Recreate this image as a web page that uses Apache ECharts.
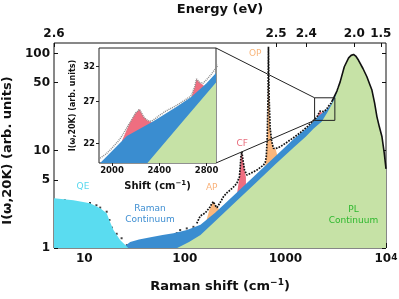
<!DOCTYPE html>
<html><head><meta charset="utf-8">
<script src="https://cdn.jsdelivr.net/npm/echarts@6/dist/echarts.min.js"></script>
<style>html,body{margin:0;padding:0;background:#fff}#c{width:399px;height:299px}</style>
</head><body><div id="c"></div>
<script>
// ---- data (Raman shift in cm^-1, intensity in arb. units) ----
const qeCurve = [[5,3.25],[7.8,3.1],[11.4,2.88],[14.4,2.56],[16.7,2.27],[18,1.86],[19.5,1.53],[22.7,1.21],[27.4,1.0]];
const ramanContinuum = [[24,1.0],[28.6,1.15],[35,1.22],[45.6,1.29],[60,1.36],[77,1.42],[105,1.53],[143,1.73],[200,2.3],[300,3.4],[500,5.6],[800,8.8],[1200,13.1],[1600,16.8],[1900,20.0],[2126,22.8],[2350,24.5],[2547,26.3],[2673,27.6],[2800,29.5],[2880,31.0],[3100,36.5],[3350,44]];
const plContinuum = [[84,1.0],[110,1.15],[143,1.36],[200,1.88],[300,2.8],[500,4.6],[800,7.3],[1200,10.7],[1600,14.0],[1900,16.8],[2300,20.0],[2600,24.5],[2880,29.6],[3100,34.5],[3350,44],[3500,51],[3850,73],[4250,90],[4500,95.5],[4760,97.5],[5000,94],[5333,85],[5900,70],[6457,57.6],[6900,48],[7244,42],[7700,31],[8128,22.3],[8600,17.5],[9120,13.9],[9600,9.5],[10000,6.5]];
const peakAP = [[165,1.97],[175,2.45],[185,2.8],[192,3.0],[200,2.75],[210,2.6],[220,2.52]];
const peakCF = [[332,3.75],[349,5.4],[356,7.0],[361,8.67],[369,9.75],[377,8.2],[392,6.33],[405,5.3]];
const peakOP = [[630,7.2],[645,8.5],[660,14],[670,33],[675,70],[678,117],[682,70],[690,33],[705,17],[730,12.5],[760,10.6],[800,10.4],[827,9.1]];
const peakInset1 = [[2084,22.3],[2150,24.3],[2200,25.5],[2232,25.97],[2270,25.0],[2300,24.6],[2336,24.4]];
const peakInset2 = [[2673,27.6],[2700,29.0],[2715,30.1],[2740,29.6],[2775,29.2]];
const lowDots = [[6.4,3.1],[7.2,3.0],[8.1,2.85],[9.5,2.85],[11.4,2.9],[13.2,2.75],[14.4,2.6],[16.7,2.36],[17.8,1.94],[18.8,1.62],[21,1.4],[23.5,1.26],[26.5,1.07],
  [30.8,1.12],[35.9,1.16],[41.8,1.21],[48.7,1.26],[56.7,1.23],[66.1,1.31],[76.9,1.33],[83.2,1.42],[89.8,1.53],[104.5,1.59],[121.7,1.65],
  [35.9,1.03],[45.1,1.07],[52,1.09],[71.3,1.16],[96.8,1.26],[115,1.45]];
const measured = [[131.5,1.79],[142,2.13],[160,2.3],[178,2.64],[185,2.85],[192,2.99],[200,2.75],[209,2.6],[225,2.95],[242,3.37],[262,3.7],[282,3.94],[305,4.25],[329,4.62],[349,5.4],[356,7.0],[361,8.67],[369,9.75],[377,8.2],[392,6.33],[414,5.62],[446,5.85],[480,6.05],[520,6.33],[560,6.7],[606,7.12],[630,7.6],[645,8.6],[660,14],[670,33],[675,70],[678,117],[682,70],[690,33],[705,17],[730,12.5],[760,10.6],[800,10.5],[887,11.0],[1000,11.9],[1115,12.9],[1250,14.0],[1403,15.3],[1634,17.5],[1800,19.3],[1890,20.4],[1950,20.9],[2000,21.5],[2050,22.2],[2084,22.8],[2150,24.3],[2200,25.5],[2232,25.97],[2270,25.0],[2300,24.6],[2336,24.5],[2400,25.2],[2450,25.7],[2500,26.1],[2550,26.5],[2600,27.0],[2650,27.5],[2673,27.8],[2700,29.0],[2715,30.1],[2740,29.6],[2771,29.5],[2800,30.0],[2840,30.8],[2880,31.8],[3000,34.5],[3250,41],[3350,44.8],[3500,51],[3850,73],[4250,90],[4500,95.5],[4760,97.5],[5000,94],[5333,85],[5900,70],[6457,57.6],[6900,48],[7244,42],[7700,31],[8128,22.3],[8600,17.5],[9120,13.9],[9600,9.5],[10000,6.5]];
const solidFrom = 2880;
const bottomTicks = [10,100,1000,10000];
const bottomMinorTicks = [6,7,8,9,20,30,40,50,60,70,80,90,200,300,400,500,600,700,800,900,2000,3000,4000,5000,6000,7000,8000,9000];
const leftTicks = [1,5,10,50,100];
const energyTicks = ['2.6','2.5','2.4','2.0','1.5'];
const laserEnergy = 2.6;
const insetXTicks = [2000,2400,2800];
const insetYTicks = [22,27,32];
const zoomBox = {shift:[1950,3100], intensity:[20.5,35]};
const annotations = [
  {text:'QE', at:[9.7,4.24], color:'#5ad8ee'},
  {text:'Raman\nContinuum', at:[45,2.25], color:'#3f8fd2'},
  {text:'AP', at:[185,4.13], color:'#f9b27a'},
  {text:'CF', at:[371,11.9], color:'#e86d7d'},
  {text:'OP', at:[500,100], color:'#f8b67c'},
  {text:'PL\nContinuum', at:[4750,2.2], color:'#2eb82e'}
];

// ---- chart ----
const FONT = 'DejaVu Sans';
const col = {green:'#c6e2a6', blue:'#3a8dd0', cyan:'#5adcf0', orange:'#fbb77c', pink:'#ef6e80'};
const chart = echarts.init(document.getElementById('c'), null, {renderer:'canvas'});
const energyShift = e => Math.max(5, (laserEnergy - parseFloat(e)) * 8065.54);
const energyTickShifts = energyTicks.map(energyShift);
function energyLabel(v){ let best='', d=Infinity; energyTickShifts.forEach((s,i)=>{const dd=Math.abs(Math.log(s)-Math.log(v)); if(dd<d){d=dd;best=energyTicks[i];}}); return best; }
const sup = (fs) => ({sup:{fontSize:fs, fontFamily:FONT, fontWeight:'bold', color:'#111', verticalAlign:'top', lineHeight:fs}});
const tickFont = {fontFamily:FONT, fontWeight:'bold', fontSize:12, color:'#111'};

function area(data, color, xi, yi){
  return {type:'line', data, xAxisIndex:xi, yAxisIndex:yi, symbol:'none', showSymbol:false,
    lineStyle:{opacity:0, width:0}, areaStyle:{color, opacity:1, origin:'start'}, silent:true, animation:false};
}
const dotted = measured.filter(p => p[0] <= solidFrom);
const solid = measured.filter(p => p[0] >= solidFrom);

const option = {
  animation:false,
  grid:[
    {left:54, right:13, top:43, bottom:51, show:true, borderColor:'#111', borderWidth:1, outerBoundsMode:'none'},
    {left:99, top:48, width:117, height:115, show:true, backgroundColor:'#fff', borderColor:'#222', borderWidth:1, outerBoundsMode:'none', z:3}
  ],
  xAxis:[
    {type:'log', gridIndex:0, min:5, max:10000, position:'bottom', axisLine:{show:false},
     splitLine:{show:false},
     axisTick:{inside:true, length:5, customValues:bottomTicks, lineStyle:{color:'#111'}},
     axisLabel:{customValues:bottomTicks, margin:5, ...tickFont,
       formatter:v => v >= 9999 ? '10{sup|4}' : String(Math.round(v)), rich:sup(9)},
     name:'Raman shift (cm{sup|−1})', nameLocation:'middle', nameGap:30,
     nameTextStyle:{fontFamily:FONT, fontWeight:'bold', fontSize:13, color:'#111', lineHeight:18, rich:sup(9)}},
    {type:'log', gridIndex:0, min:5, max:10000, position:'bottom', axisLine:{show:false}, splitLine:{show:false},
     axisTick:{inside:true, length:2.5, customValues:bottomMinorTicks, lineStyle:{color:'#111'}},
     axisLabel:{show:false}},
    {type:'log', gridIndex:0, min:5, max:10000, position:'top', axisLine:{show:false}, splitLine:{show:false},
     axisTick:{inside:true, length:4, customValues:energyTickShifts, lineStyle:{color:'#111'}},
     axisLabel:{customValues:energyTickShifts, margin:3, ...tickFont, formatter:v => energyLabel(v)},
     name:'Energy (eV)', nameLocation:'middle', nameGap:27,
     nameTextStyle:{fontFamily:FONT, fontWeight:'bold', fontSize:13, color:'#111'}},
    {type:'value', gridIndex:1, min:1890, max:2880, position:'bottom', axisLine:{show:false}, splitLine:{show:false},
     axisTick:{inside:false, length:3, customValues:insetXTicks, lineStyle:{color:'#222'}},
     axisLabel:{customValues:insetXTicks, margin:3, fontFamily:FONT, fontWeight:'bold', fontSize:8.5, color:'#111', formatter:v => String(Math.round(v))},
     name:'Shift (cm{sup|−1})', nameLocation:'middle', nameGap:17,
     nameTextStyle:{fontFamily:FONT, fontWeight:'bold', fontSize:10, color:'#111', lineHeight:13, rich:sup(7)}}
  ],
  yAxis:[
    {type:'log', gridIndex:0, min:1, max:128, position:'left', axisLine:{show:false}, splitLine:{show:false},
     axisTick:{inside:true, length:4, customValues:leftTicks, lineStyle:{color:'#111'}},
     axisLabel:{customValues:leftTicks, margin:4, ...tickFont},
     name:'I(ω,20K) (arb. units)', nameLocation:'middle', nameGap:34,
     nameTextStyle:{fontFamily:FONT, fontWeight:'bold', fontSize:13, color:'#111', padding:[0,10,0,0]}},
    {type:'log', gridIndex:0, min:1, max:128, position:'right', axisLine:{show:false}, splitLine:{show:false},
     axisTick:{inside:true, length:4, customValues:leftTicks, lineStyle:{color:'#111'}},
     axisLabel:{show:false}},
    {type:'log', gridIndex:1, min:20, max:35, position:'left', axisLine:{show:false}, splitLine:{show:false},
     axisTick:{inside:false, length:3, customValues:insetYTicks, lineStyle:{color:'#222'}},
     axisLabel:{customValues:insetYTicks, margin:4, fontFamily:FONT, fontWeight:'bold', fontSize:8.5, color:'#111'},
     name:'I(ω,20K) (arb. units)', nameLocation:'middle', nameGap:22,
     nameTextStyle:{fontFamily:FONT, fontWeight:'bold', fontSize:8, color:'#111'}}
  ],
  series:[
    area(peakAP, col.orange, 0, 0),
    area(peakCF, col.pink, 0, 0),
    area(peakOP, col.orange, 0, 0),
    area(peakInset1, col.pink, 0, 0),
    area(peakInset2, col.pink, 0, 0),
    area(ramanContinuum, col.blue, 0, 0),
    area(plContinuum, col.green, 0, 0),
    area(qeCurve, col.cyan, 0, 0),
    {type:'scatter', data:lowDots, xAxisIndex:0, yAxisIndex:0, symbol:'rect', symbolSize:2, itemStyle:{color:'#111'}, silent:true},
    {type:'line', data:dotted, xAxisIndex:0, yAxisIndex:0, symbol:'none', lineStyle:{color:'#111', width:1.7, type:[1.7,1.2]}, silent:true},
    {type:'line', data:solid, xAxisIndex:0, yAxisIndex:0, symbol:'none', lineStyle:{color:'#111', width:1.6}, silent:true},
    // inset
    area(peakInset1, col.pink, 3, 2),
    area(peakInset2, col.pink, 3, 2),
    area(ramanContinuum, col.blue, 3, 2),
    area(plContinuum, col.green, 3, 2),
    {type:'line', data:measured, xAxisIndex:3, yAxisIndex:2, symbol:'none', lineStyle:{color:'#8c8c8c', width:1.5, type:[1,1]}, silent:true}
  ]
};
chart.setOption(option);

// annotations, zoom box and connectors placed via the chart's own coordinate conversion
const mainF = {xAxisIndex:0, yAxisIndex:0};
const insetF = {xAxisIndex:3, yAxisIndex:2};
const b0 = chart.convertToPixel(mainF, [zoomBox.shift[0], zoomBox.intensity[1]]);
const b1 = chart.convertToPixel(mainF, [zoomBox.shift[1], zoomBox.intensity[0]]);
const iTR = chart.convertToPixel(insetF, [2880, 35]);
const iBR = chart.convertToPixel(insetF, [2880, 20]);
const graphics = [
  {type:'rect', shape:{x:b0[0], y:b0[1], width:b1[0]-b0[0], height:b1[1]-b0[1]}, style:{fill:'none', stroke:'#222', lineWidth:1}, z:100},
  {type:'line', shape:{x1:iTR[0], y1:iTR[1], x2:b0[0], y2:b0[1]}, style:{stroke:'#222', lineWidth:1}, z:100},
  {type:'line', shape:{x1:iBR[0], y1:iBR[1], x2:b0[0], y2:b1[1]}, style:{stroke:'#222', lineWidth:1}, z:100}
];
annotations.forEach(a => {
  const p = chart.convertToPixel(mainF, a.at);
  graphics.push({type:'text', x:p[0], y:p[1], z:100, style:{text:a.text, fill:a.color, font:'9px "DejaVu Sans"', textAlign:'center', textVerticalAlign:'middle', lineHeight:11}});
});
chart.setOption({graphic:graphics});
</script></body></html>
